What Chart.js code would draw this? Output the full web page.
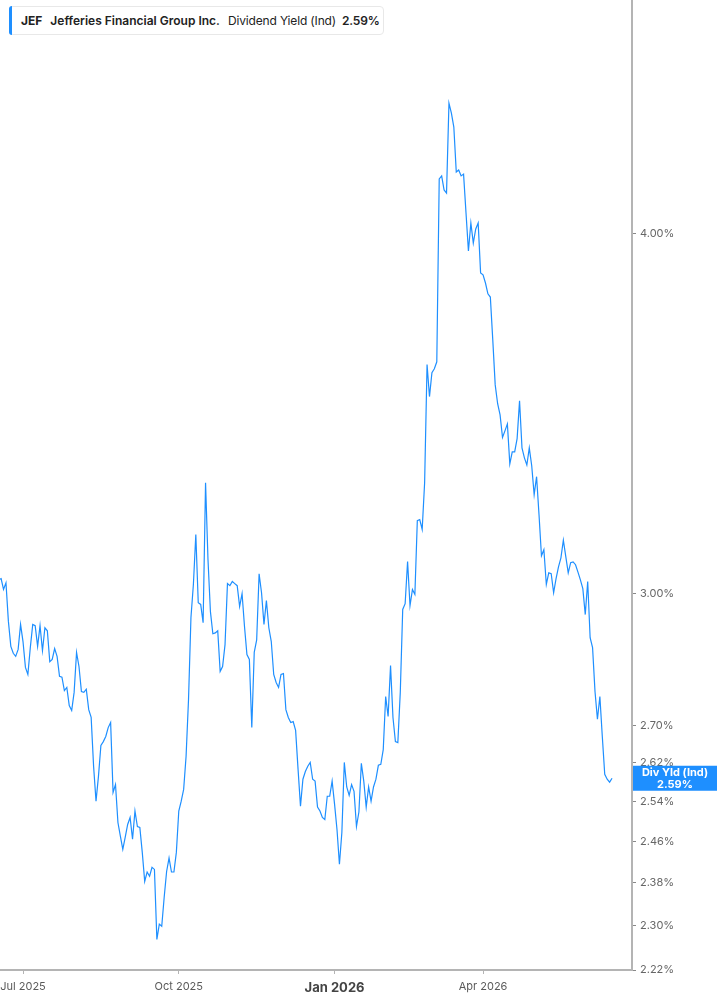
<!DOCTYPE html>
<html>
<head>
<meta charset="utf-8">
<script src="https://cdn.jsdelivr.net/npm/chart.js@4.4.1/dist/chart.umd.min.js"></script>
<style>
  html, body { margin: 0; padding: 0; background: #fff; }
  #wrap { position: relative; width: 717px; height: 1005px; }
  #hdr {
    position: absolute; left: 9px; top: 6px; height: 27px; padding: 0 4px 0 11px;
    border: 1px solid #e8e8e8; border-radius: 4px; background: #fff;
    display: flex; align-items: center; font-family: Inter, sans-serif; font-size: 12px; color: #222;
    white-space: nowrap;
  }
  #hdr .bar { position: absolute; left: -1px; top: -1px; bottom: -1px; width: 3px; background: #1e8fff; border-radius: 4px 0 0 4px; }
  #hdr b { font-weight: 700; }
  #hdr .gap { margin-left: 8px; }
  #hdr .name { font-weight: 600; }
  #hdr .desc { letter-spacing: -0.15px; }
  #hdr .val { font-weight: 600; margin-left: 6px; letter-spacing: -0.2px; }
</style>
</head>
<body>
<div id="wrap">
  <canvas id="yieldChart" width="717" height="1005"></canvas>
  <div id="hdr"><span class="bar"></span><b>JEF</b><span class="gap name">Jefferies Financial Group Inc.</span><span class="gap desc">Dividend Yield (Ind)</span><span class="val">2.59%</span></div>
</div>
<script>
// trading calendar
var firstDay = '2025-06-16';
var lastDay = '2026-06-30';
var holidays = ['2025-06-19', '2025-07-04', '2025-09-01', '2025-11-27', '2025-12-25',
  '2026-01-01', '2026-01-19', '2026-02-16', '2026-04-03', '2026-05-25', '2026-06-19'];
var quarterMonths = [0, 3, 6, 9];
var monthNames = ['Jan', 'Feb', 'Mar', 'Apr', 'May', 'Jun', 'Jul', 'Aug', 'Sep', 'Oct', 'Nov', 'Dec'];

// dividend yield (%), one value per trading day from firstDay
var divYield = [
  3.034, 3.036, 3.010, 3.026, 2.934, 2.876, 2.860, 2.853, 2.869, 2.927,
  2.887, 2.828, 2.812, 2.873, 2.927, 2.924, 2.876, 2.924, 2.866, 2.919,
  2.912, 2.841, 2.846, 2.871, 2.853, 2.808, 2.806, 2.776, 2.783, 2.743,
  2.732, 2.772, 2.862, 2.830, 2.774, 2.772, 2.779, 2.734, 2.717, 2.613,
  2.541, 2.592, 2.657, 2.665, 2.676, 2.695, 2.706, 2.559, 2.575, 2.498,
  2.471, 2.445, 2.469, 2.494, 2.508, 2.465, 2.521, 2.490, 2.488, 2.439,
  2.383, 2.401, 2.393, 2.410, 2.406, 2.275, 2.303, 2.299, 2.353, 2.402,
  2.428, 2.401, 2.401, 2.439, 2.521, 2.541, 2.565, 2.634, 2.756, 2.943,
  3.022, 3.145, 2.978, 2.974, 2.931, 3.278, 3.083, 2.957, 2.905, 2.907,
  2.912, 2.819, 2.830, 2.880, 3.024, 3.019, 3.029, 3.024, 3.019, 2.969,
  3.000, 2.922, 2.857, 2.846, 2.695, 2.862, 2.891, 3.048, 3.002, 2.927,
  2.983, 2.919, 2.887, 2.812, 2.794, 2.783, 2.812, 2.814, 2.734, 2.717,
  2.706, 2.708, 2.689, 2.607, 2.531, 2.586, 2.602, 2.613, 2.621, 2.586,
  2.582, 2.529, 2.521, 2.508, 2.504, 2.551, 2.551, 2.582, 2.535, 2.484,
  2.416, 2.478, 2.621, 2.570, 2.553, 2.575, 2.561, 2.490, 2.519, 2.619,
  2.582, 2.529, 2.570, 2.541, 2.570, 2.586, 2.615, 2.617, 2.648, 2.763,
  2.719, 2.832, 2.717, 2.665, 2.663, 2.772, 2.962, 2.976, 3.078, 2.971,
  3.010, 2.998, 3.180, 3.183, 3.158, 3.278, 3.603, 3.512, 3.580, 3.591,
  3.611, 4.180, 4.190, 4.143, 4.133, 4.441, 4.406, 4.357, 4.203, 4.210,
  4.190, 4.196, 4.068, 3.946, 4.035, 3.971, 4.016, 4.035, 3.877, 3.871,
  3.846, 3.813, 3.803, 3.675, 3.545, 3.492, 3.461, 3.399, 3.417, 3.436,
  3.328, 3.360, 3.360, 3.396, 3.500, 3.371, 3.344, 3.325, 3.371, 3.323,
  3.247, 3.294, 3.195, 3.092, 3.107, 3.022, 3.050, 3.048, 3.002, 3.036,
  3.065, 3.087, 3.131, 3.090, 3.050, 3.075, 3.077, 3.070, 3.052, 3.033,
  3.012, 2.950, 3.029, 2.896, 2.873, 2.774, 2.713, 2.763, 2.676, 2.596,
  2.586, 2.580, 2.588
];

var yTicks = [2.22, 2.30, 2.38, 2.46, 2.54, 2.62, 2.70, 3.00, 4.00];
var yMin = 2.22;
var yMax = 4.823;
var lineColor = '#1e8fff';
var axisColor = '#b4b4b4';

function buildTradingDays(from, to) {
  var days = [];
  var d = new Date(from + 'T00:00:00Z');
  var end = new Date(to + 'T00:00:00Z');
  while (d <= end) {
    var iso = d.toISOString().slice(0, 10);
    var wd = d.getUTCDay();
    if (wd !== 0 && wd !== 6 && holidays.indexOf(iso) < 0) days.push(new Date(d));
    d.setUTCDate(d.getUTCDate() + 1);
  }
  return days;
}

var tradingDays = buildTradingDays(firstDay, lastDay);

var quarterTicks = [];
for (var i = 1; i < tradingDays.length; i++) {
  var m = tradingDays[i].getUTCMonth();
  if (m !== tradingDays[i - 1].getUTCMonth() && quarterMonths.indexOf(m) >= 0) quarterTicks.push(i);
}

function tickLabel(idx) {
  var d = tradingDays[Math.round(idx)];
  return monthNames[d.getUTCMonth()] + ' ' + d.getUTCFullYear();
}

function isYearStart(idx) {
  return tradingDays[Math.round(idx)].getUTCMonth() === 0;
}

var points = divYield.map(function (v, i) { return { x: i, y: v }; });

// blue value tag on the right axis at the last value
var lastLabel = {
  id: 'lastLabel',
  afterDraw: function (chart) {
    var ctx = chart.ctx;
    var ys = chart.scales.y;
    var last = divYield[divYield.length - 1];
    var py = ys.getPixelForValue(last);
    var left = chart.chartArea.right + 1;
    var w = chart.width - left;
    ctx.save();
    ctx.fillStyle = lineColor;
    ctx.fillRect(left, py - 12.5, w, 25);
    ctx.fillStyle = '#fff';
    ctx.textAlign = 'center';
    ctx.textBaseline = 'middle';
    ctx.font = 'bold 11px Inter, sans-serif';
    ctx.fillText('Div Yld (Ind)', left + w / 2, py - 5.5);
    ctx.fillText(last.toFixed(2) + '%', left + w / 2, py + 6);
    ctx.restore();
  }
};

new Chart(document.getElementById('yieldChart'), {
  type: 'line',
  data: {
    datasets: [{
      data: points,
      borderColor: lineColor,
      borderWidth: 1.2,
      pointRadius: 0,
      tension: 0,
      fill: false
    }]
  },
  options: {
    responsive: false,
    animation: false,
    layout: { padding: 0 },
    plugins: {
      legend: { display: false },
      tooltip: { enabled: false }
    },
    scales: {
      x: {
        type: 'linear',
        min: 0.55,
        max: 260.2,
        grid: { drawOnChartArea: false, drawTicks: true, tickLength: 4, tickColor: axisColor },
        border: { display: true, color: axisColor, width: 2 },
        afterBuildTicks: function (s) {
          s.ticks = quarterTicks.map(function (v) { return { value: v }; });
        },
        afterFit: function (s) {
          s.height = 35;
          s.paddingLeft = 0;
          s.paddingRight = 0;
        },
        ticks: {
          autoSkip: false,
          maxRotation: 0,
          padding: 6,
          callback: function (v) { return tickLabel(v); },
          color: function (c) { return c.tick && isYearStart(c.tick.value) ? '#444' : '#5a5a5a'; },
          font: function (c) {
            var big = c.tick && isYearStart(c.tick.value);
            return { family: 'Inter, sans-serif', size: big ? 13 : 11, weight: big ? 'bold' : 'normal' };
          }
        }
      },
      y: {
        type: 'logarithmic',
        position: 'right',
        min: yMin,
        max: yMax,
        grid: { drawOnChartArea: false, drawTicks: true, tickLength: 4, tickColor: '#888' },
        border: { display: true, color: axisColor, width: 2 },
        afterBuildTicks: function (s) {
          s.ticks = yTicks.map(function (v) { return { value: v }; });
          // log scale rounds the lower bound, put it back
          s.min = yMin;
          s.max = yMax;
        },
        afterFit: function (s) {
          s.width = 85;
          s.paddingTop = 0;
          s.paddingBottom = 0;
        },
        ticks: {
          padding: 4,
          color: '#666',
          font: { family: 'Inter, sans-serif', size: 11 },
          callback: function (v) { return Number(v).toFixed(2) + '%'; }
        }
      }
    }
  },
  plugins: [lastLabel]
});
</script>
</body>
</html>
